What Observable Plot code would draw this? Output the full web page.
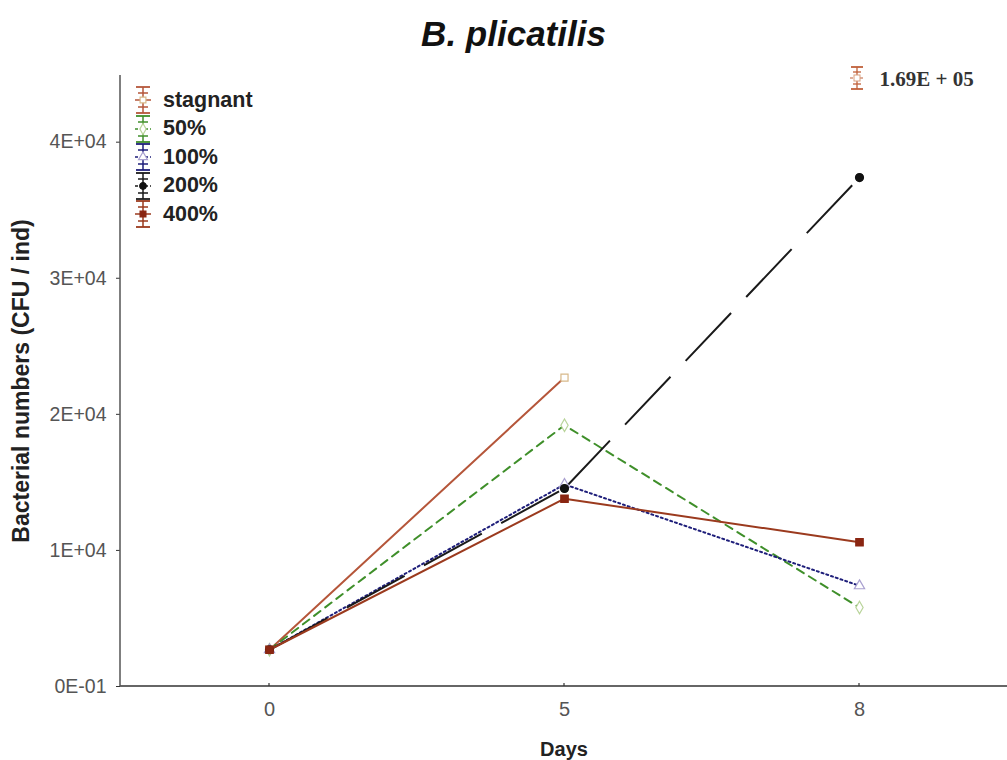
<!DOCTYPE html>
<html>
<head>
<meta charset="utf-8">
<script src="https://cdn.jsdelivr.net/npm/d3@7"></script>
<script src="https://cdn.jsdelivr.net/npm/@observablehq/plot@0.6"></script>
<style>
  body { margin: 0; background: #fff; font-family: "Liberation Sans", Arial, sans-serif; }
  #wrap { position: relative; width: 1007px; height: 760px; overflow: hidden; }
  #title { height: 60px; text-align: center; padding-left: 20px; box-sizing: border-box;
           font: italic bold 35px "Liberation Sans", Arial, sans-serif; line-height: 68px; color: #111; }
  #legend { position: absolute; left: 132px; top: 86px; }
  .lrow { display: flex; align-items: center; height: 28.5px; }
  .lrow span { font: bold 21.5px "Liberation Sans", Arial, sans-serif; color: #222; margin-left: 9px; }
  #chart svg g[aria-label="y-axis label"] { font-weight: bold; font-size: 23px; fill: #222; }
  #chart svg g[aria-label="x-axis label"] { font-weight: bold; font-size: 20px; fill: #222; }
  #chart svg g[aria-label="y-axis tick label"] { font-size: 19.5px; fill: #555; }
  #chart svg g[aria-label="x-axis tick label"] { font-size: 20px; fill: #555; }
</style>
</head>
<body>
<div id="wrap">
  <div id="title">B. plicatilis</div>
  <div id="chart"></div>
  <div id="legend"></div>
</div>
<script>
// ---- data ----
const days = ["0", "5", "8"];
const seriesNames = ["stagnant", "50%", "100%", "200%", "400%"];
const stagnant = [2700, 22700, 169000];
const pct50    = [2700, 19200, 5800];
const pct100   = [2700, 14850, 7400];
const pct200   = [2700, 14550, 37400];
const pct400   = [2700, 13800, 10600];
const yTicks = [0, 10000, 20000, 30000, 40000];
const yMax = 44900;

// ---- styles ----
const styles = {
  "stagnant": {stroke: "#b5563a", dash: null, width: 2, symbol: "square", fill: "#fff", mstroke: "#d8b98a", r: 4},
  "50%":      {stroke: "#3f8f2a", dash: "8,6", width: 2, symbol: "diamond", fill: "#fff", mstroke: "#b9d49a", r: 3.8},
  "100%":     {stroke: "#1e1e7a", dash: "2,3", width: 2, symbol: "triangle", fill: "#fff", mstroke: "#a9a0d0", r: 3.8},
  "200%":     {stroke: "#1a1a1a", dash: "66,22", width: 2, symbol: "circle", fill: "#111", mstroke: "#111", r: 4},
  "400%":     {stroke: "#9b3a1e", dash: null, width: 2, symbol: "square", fill: "#8a2612", mstroke: "#8a2612", r: 4.2}
};

const valuesBySeries = {"stagnant": stagnant, "50%": pct50, "100%": pct100, "200%": pct200, "400%": pct400};
const rows = seriesNames.flatMap(s => days.map((d, i) => ({series: s, day: d, value: valuesBySeries[s][i]})));
const inRange = rows.filter(r => r.value <= yMax);
const offScale = rows.filter(r => r.value > yMax);

// consecutive segments (so each segment starts its dash pattern at a point)
const segs = seriesNames.flatMap(s => {
  const r = inRange.filter(d => d.series === s);
  return r.slice(1).map((d, i) => ({series: s, d1: r[i].day, v1: r[i].value, d2: d.day, v2: d.value}));
});

function sci(d) {
  if (d === 0) return "0E-01";
  const e = Math.floor(Math.log10(d));
  const m = Math.round(d / 10 ** e);
  return `${m}E+${String(e).padStart(2, "0")}`;
}
function sciLong(d) {
  const e = Math.floor(Math.log10(d));
  const m = (d / 10 ** e).toFixed(2);
  return `${m}E + ${String(e).padStart(2, "0")}`;
}

const marks = [];
for (const s of seriesNames) {
  const st = styles[s];
  if (s === "200%") {
    marks.push(Plot.link(segs.filter(r => r.series === s), {
      x1: "d1", y1: "v1", x2: "d2", y2: "v2", stroke: st.stroke, strokeWidth: st.width,
      strokeDasharray: st.dash
    }));
  } else {
    marks.push(Plot.line(inRange.filter(r => r.series === s), {
      x: "day", y: "value", stroke: st.stroke, strokeWidth: st.width,
      strokeDasharray: st.dash || undefined
    }));
  }
}
for (const s of seriesNames) {
  const st = styles[s];
  marks.push(Plot.dot(inRange.filter(r => r.series === s), {
    x: "day", y: "value", symbol: () => st.symbol, r: st.r,
    fill: st.fill, stroke: st.mstroke, strokeWidth: 1.2
  }));
}
// off-scale annotation
marks.push(Plot.text(offScale, {x: "day", frameAnchor: "top", dx: 20, dy: 4, lineAnchor: "middle", textAnchor: "start",
  text: d => sciLong(d.value), fontFamily: "Liberation Serif, Times New Roman, serif", fontWeight: "bold",
  fontSize: 21, fill: "#333"}));

marks.push(Plot.axisY({ticks: yTicks, tickFormat: sci, tickSize: 4, tickPadding: 10,
  stroke: "#333", label: "Bacterial numbers (CFU / ind)", labelAnchor: "center",
  labelArrow: "none", labelOffset: 108}));
marks.push(Plot.axisX({tickSize: 0, tickPadding: 15,
  label: "Days", labelAnchor: "center", labelArrow: "none", labelOffset: 69}));

const chart = Plot.plot({
  width: 1007, height: 700,
  marginLeft: 120, marginRight: 0, marginTop: 15, marginBottom: 74,
  style: {fontFamily: "Liberation Sans, Arial, sans-serif", background: "#fff", fontSize: "15px"},
  x: {type: "point", domain: days, padding: 0.5},
  y: {domain: [0, yMax]},
  marks
});

// axis lines from the scales
const xr = chart.scale("x").range, yr = chart.scale("y").range;
const svg = d3.select(chart);
svg.append("line").attr("x1", xr[0]).attr("x2", xr[1]).attr("y1", yr[0]).attr("y2", yr[0])
  .attr("stroke", "#333").attr("stroke-width", 1.5);
svg.append("line").attr("x1", xr[0]).attr("x2", xr[0]).attr("y1", yr[0]).attr("y2", yr[1])
  .attr("stroke", "#555").attr("stroke-width", 1.5);
const xs = chart.scale("x");
for (const d of days) {
  svg.append("line").attr("x1", xs.apply(d)).attr("x2", xs.apply(d)).attr("y1", yr[0]).attr("y2", yr[0] - 3)
    .attr("stroke", "#333").attr("stroke-width", 1.2);
}
// off-scale marker glyph (error-bar style) next to the annotation
for (const r of offScale) {
  const gx = xs.apply(r.day) - 2, gy = yr[1] + 3;
  const g = svg.append("g").attr("transform", `translate(${gx},${gy})`).attr("stroke", "#c0603a").attr("fill", "none");
  g.append("line").attr("x1", 0).attr("x2", 0).attr("y1", -11).attr("y2", 11).attr("stroke-width", 1.3);
  for (const y of [-11, 11]) g.append("line").attr("x1", -6).attr("x2", 6).attr("y1", y).attr("y2", y).attr("stroke-width", 1.8);
  for (const y of [-6, 6]) g.append("line").attr("x1", -4).attr("x2", 4).attr("y1", y).attr("y2", y).attr("stroke-width", 1.3);
  g.append("line").attr("x1", -7).attr("x2", 7).attr("y1", 0).attr("y2", 0).attr("stroke-width", 1.2).attr("stroke-dasharray", "3,2");
  g.append("rect").attr("x", -3).attr("y", -3).attr("width", 6).attr("height", 6).attr("fill", "#fff").attr("stroke", "#d8a080");
}

document.getElementById("chart").appendChild(chart);

// legend
const leg = d3.select("#legend");
for (const s of seriesNames) {
  const st = styles[s];
  const row = leg.append("div").attr("class", "lrow");
  const g = row.append("svg").attr("width", 22).attr("height", 30);
  g.append("line").attr("x1", 11).attr("x2", 11).attr("y1", 2).attr("y2", 28).attr("stroke", st.stroke).attr("stroke-width", 1.5);
  for (const y of [2, 28]) g.append("line").attr("x1", 4).attr("x2", 18).attr("y1", y).attr("y2", y).attr("stroke", st.stroke).attr("stroke-width", 1.8);
  for (const y of [8, 22]) g.append("line").attr("x1", 6).attr("x2", 16).attr("y1", y).attr("y2", y).attr("stroke", st.stroke).attr("stroke-width", 1.5);
  g.append("line").attr("x1", 3).attr("x2", 19).attr("y1", 15).attr("y2", 15).attr("stroke", st.stroke)
    .attr("stroke-width", 1.5).attr("stroke-dasharray", st.dash ? "3,2" : null);
  const sym = d3.symbol().type({square: d3.symbolSquare, diamond: d3.symbolDiamond, triangle: d3.symbolTriangle, circle: d3.symbolCircle}[st.symbol]).size(34);
  g.append("path").attr("d", sym()).attr("transform", "translate(11,15)").attr("fill", st.fill).attr("stroke", st.mstroke).attr("stroke-width", 1.2);
  row.append("span").text(s);
}
</script>
</body>
</html>
